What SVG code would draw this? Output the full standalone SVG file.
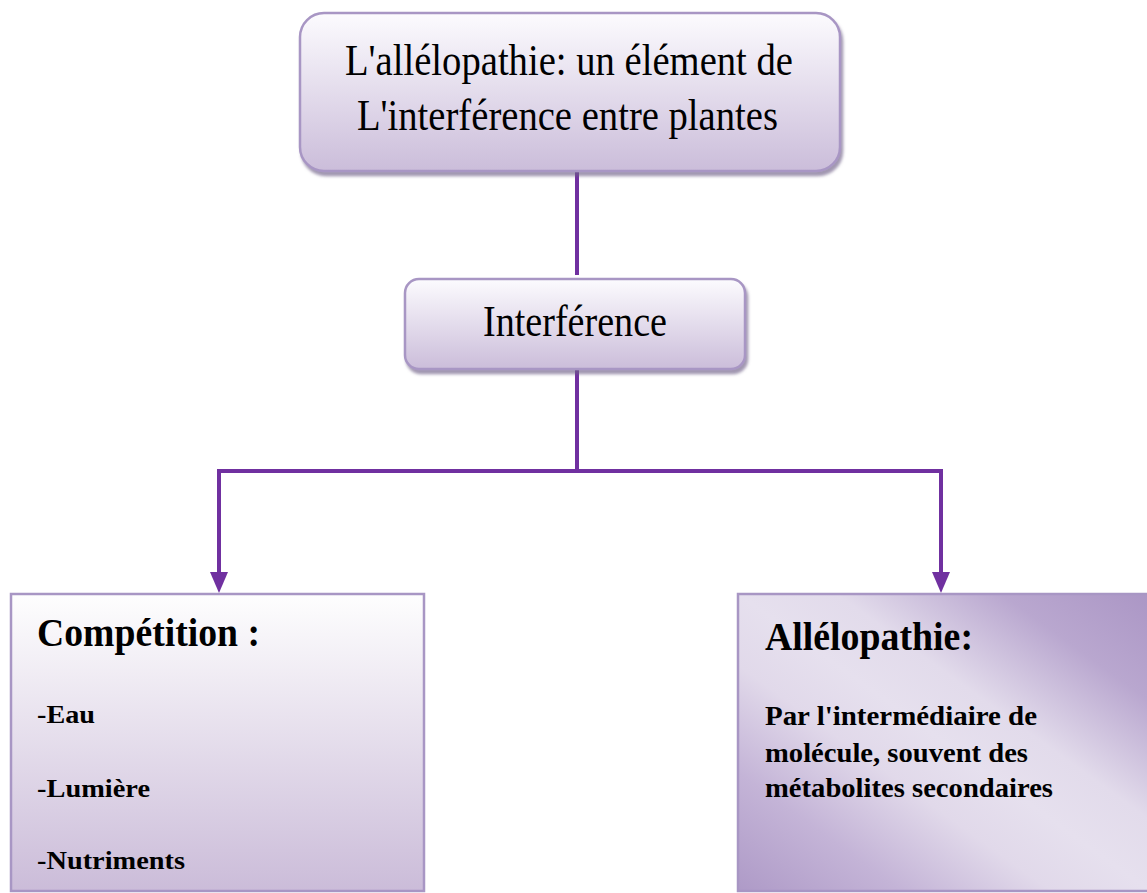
<svg xmlns="http://www.w3.org/2000/svg" width="1147" height="893" viewBox="0 0 1147 893">
  <style>
    .box { stroke: #a896c4; stroke-width: 2.5; }
    .serif { font-family: "Liberation Serif", "Times New Roman", serif; fill: #000; }
    .title { font-size: 45px; }
    .bold { font-weight: bold; }
    .conn { fill: none; stroke: #7030a0; stroke-width: 4; stroke-linejoin: miter; }
    .head { fill: #7030a0; }
  </style>
  <defs>
    <linearGradient id="gV" x1="0" y1="0" x2="0" y2="1">
      <stop offset="0" stop-color="#fcfbfe"/>
      <stop offset="1" stop-color="#cbbdda"/>
    </linearGradient>
    <linearGradient id="gL" x1="0" y1="0" x2="0" y2="1">
      <stop offset="0" stop-color="#fefefe"/>
      <stop offset="1" stop-color="#cbbcd9"/>
    </linearGradient>
    <linearGradient id="gR" x1="1" y1="0" x2="0" y2="1">
      <stop offset="0" stop-color="#ab96c5"/>
      <stop offset="0.18" stop-color="#b9a7cf"/>
      <stop offset="0.38" stop-color="#e2dbeb"/>
      <stop offset="0.5" stop-color="#e6e0ee"/>
      <stop offset="0.62" stop-color="#e1d9ea"/>
      <stop offset="0.8" stop-color="#c4b4d7"/>
      <stop offset="1" stop-color="#ae9ac7"/>
    </linearGradient>
    <filter id="sh" x="-5%" y="-5%" width="110%" height="120%">
      <feDropShadow dx="2" dy="4" stdDeviation="1.5" flood-color="#6e5e86" flood-opacity="0.65"/>
    </filter>
  </defs>

  <g id="connectors">
    <line class="conn" x1="577" y1="172" x2="577" y2="275"/>
    <line class="conn" x1="577" y1="370" x2="577" y2="471"/>
    <path class="conn" d="M577,471 H219 V576"/>
    <path class="conn" d="M577,471 H941 V576"/>
    <polygon class="head" points="210,572 228,572 219,593"/>
    <polygon class="head" points="932,572 950,572 941,593"/>
  </g>

  <g id="node-top">
    <rect class="box" x="300" y="13" width="540" height="158" rx="24" fill="url(#gV)" filter="url(#sh)"/>
    <text class="serif title" x="345" y="75" textLength="448" lengthAdjust="spacingAndGlyphs">L'allélopathie: un élément de</text>
    <text class="serif title" x="357" y="130" textLength="421" lengthAdjust="spacingAndGlyphs">L'interférence entre plantes</text>
  </g>

  <g id="node-interference">
    <rect class="box" x="405" y="279" width="340" height="90" rx="14" fill="url(#gV)" filter="url(#sh)"/>
    <text class="serif title" x="483" y="336" textLength="184" lengthAdjust="spacingAndGlyphs">Interférence</text>
  </g>

  <g id="node-competition">
    <rect class="box" x="11" y="594" width="413" height="297" fill="url(#gL)"/>
    <text class="serif bold" x="37" y="646" font-size="41" textLength="223" lengthAdjust="spacingAndGlyphs">Compétition :</text>
    <text class="serif bold" x="37" y="723" font-size="26" textLength="58" lengthAdjust="spacingAndGlyphs">-Eau</text>
    <text class="serif bold" x="37" y="797" font-size="26" textLength="113" lengthAdjust="spacingAndGlyphs">-Lumière</text>
    <text class="serif bold" x="37" y="869" font-size="26" textLength="148" lengthAdjust="spacingAndGlyphs">-Nutriments</text>
  </g>

  <g id="node-allelopathie">
    <rect class="box" x="738" y="594" width="412" height="297" fill="url(#gR)"/>
    <text class="serif bold" x="765" y="650" font-size="39" textLength="208" lengthAdjust="spacingAndGlyphs">Allélopathie:</text>
    <text class="serif bold" x="765" y="725" font-size="27" textLength="272" lengthAdjust="spacingAndGlyphs">Par l'intermédiaire de</text>
    <text class="serif bold" x="765" y="762" font-size="27" textLength="263" lengthAdjust="spacingAndGlyphs">molécule, souvent des</text>
    <text class="serif bold" x="765" y="797" font-size="27" textLength="288" lengthAdjust="spacingAndGlyphs">métabolites secondaires</text>
  </g>
</svg>
